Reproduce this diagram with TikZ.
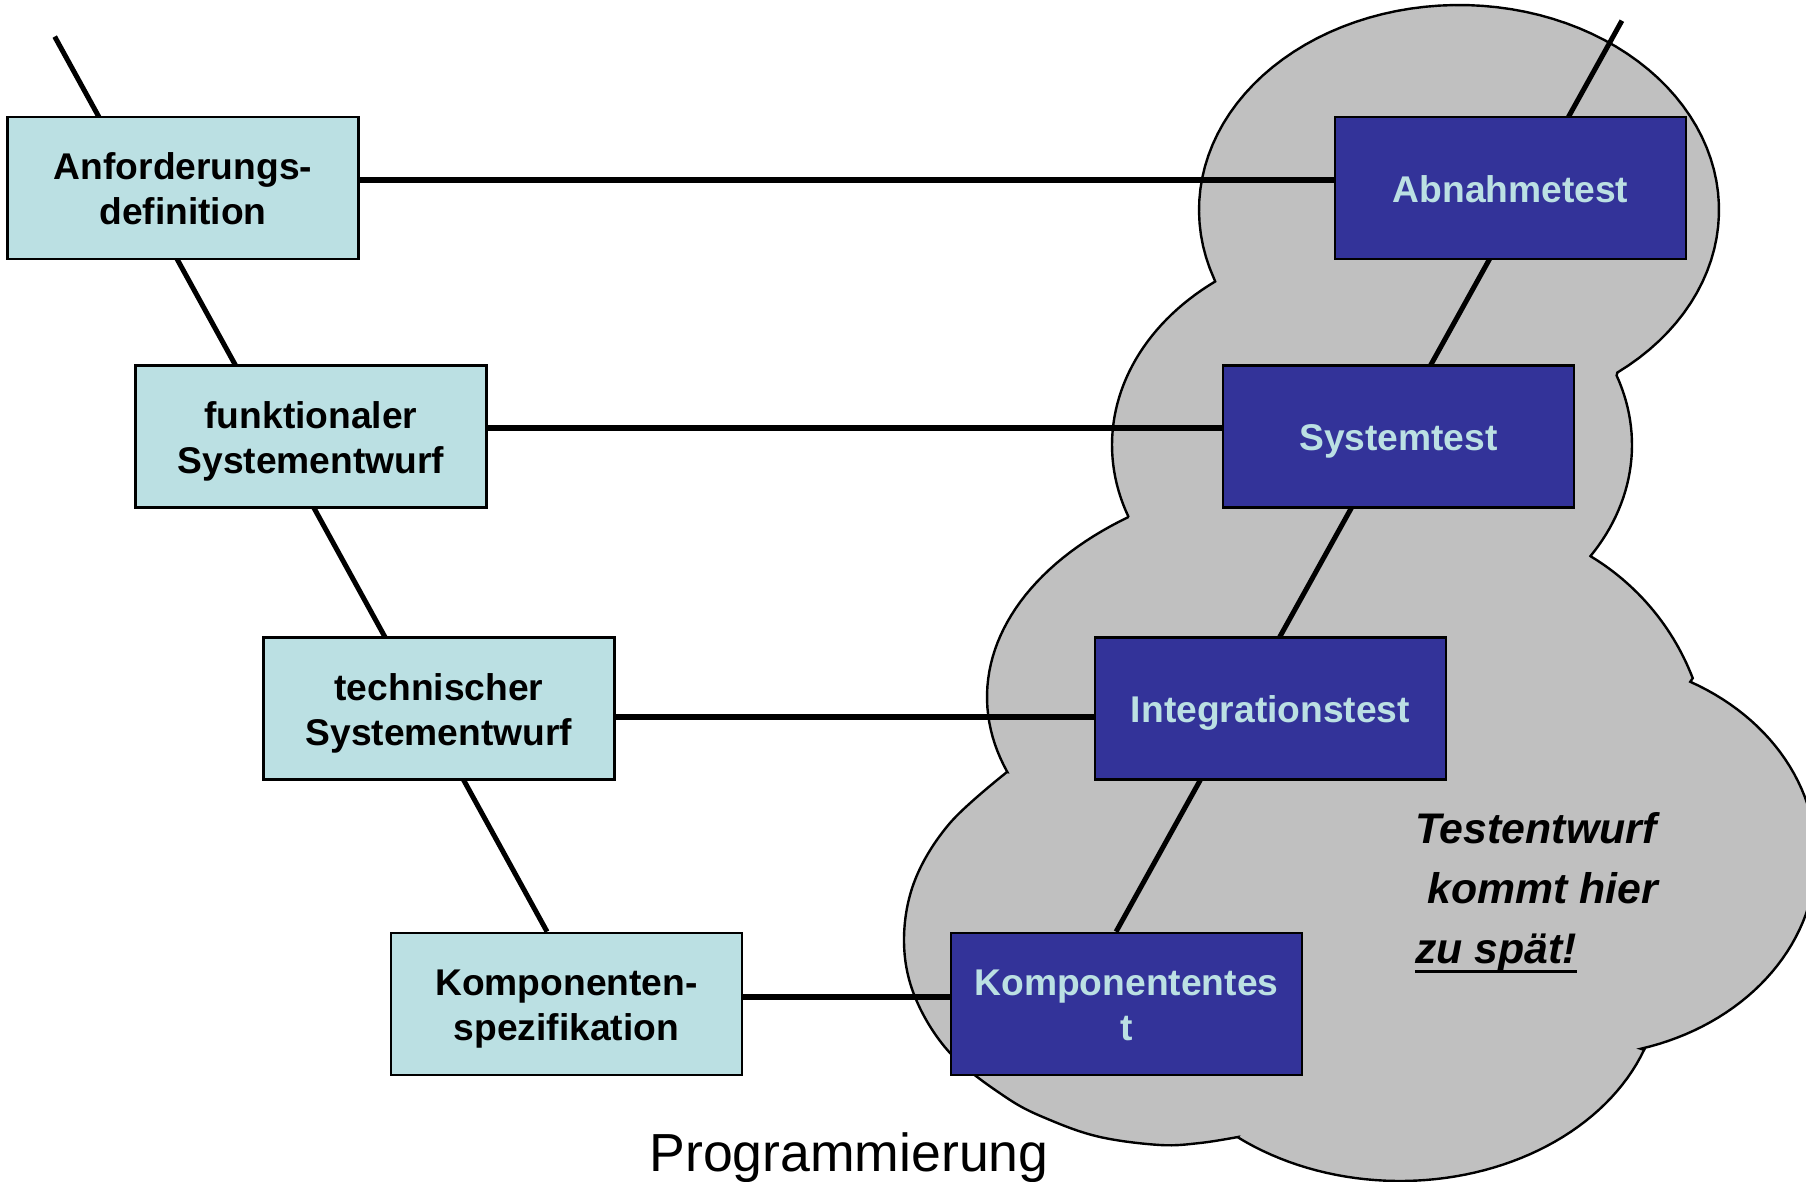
\documentclass[tikz,border=0pt]{standalone}
\usepackage{fontspec}
\setmainfont{Liberation Sans}
\usetikzlibrary{calc}
\definecolor{boxcyan}{HTML}{BBE0E3}
\definecolor{boxblue}{HTML}{333399}
\definecolor{cloudgrey}{HTML}{C0C0C0}
% uniform line height/depth so every box text is centred alike
\newcommand\boxstrut{\rule[-0.22em]{0pt}{1.20em}}
% underline with a heavier rule than \underline gives
\newsavebox\ulsave
\newcommand\thickunderline[1]{\sbox\ulsave{#1}\rlap{\rule[-0.224em]{\wd\ulsave}{0.076em}}\usebox\ulsave}
\pgfdeclarelayer{cloudlayer}
\pgfdeclarelayer{linelayer}
\pgfsetlayers{cloudlayer,linelayer,main}
\begin{document}
\begin{tikzpicture}[x=0.5pt,y=-0.5pt,
  phase/.style={draw=black, line width=1.3pt, minimum width=175.5pt, minimum height=71pt,
    inner sep=0pt, align=center,
    font=\fontsize{18.6pt}{22.5pt}\selectfont\bfseries,
    execute at begin node=\boxstrut, execute at end node=\boxstrut},
  spec/.style={phase, fill=boxcyan, text=black},
  test/.style={phase, fill=boxblue, text=boxcyan},
  level/.style={line width=3pt},
  vline/.style={line width=2.5pt},
  note/.style={anchor=base west, inner sep=0pt, font=\fontsize{21.4pt}{30pt}\selectfont\bfseries\itshape},
]
\useasboundingbox (0,0) rectangle (1806,1182);

% design phases (left) and test phases (right)
\node[spec] (anf)   at (183,188)     {\boxstrut Anforderungs-\\definition};
\node[spec] (fkt)   at (311,436.5)   {\boxstrut funktionaler\\Systementwurf};
\node[spec] (tech)  at (439,708.5)   {\boxstrut technischer\\Systementwurf};
\node[spec] (kspec) at (566.5,1004)  {\boxstrut Komponenten-\\spezifikation};
\node[test] (abn)   at (1510.5,188)  {Abnahmetest};
\node[test] (sys)   at (1398.5,436.5){Systemtest};
\node[test] (int)   at (1270.5,708.5){Integrationstest};
\node[test] (ktest) at (1126.5,1004) {\boxstrut Komponententes\\t};

\coordinate (ltop) at (54.7,36.6);
\coordinate (rtop) at (1621.9,20.7);

% grey cloud behind the test phases
\begin{pgfonlayer}{cloudlayer}
\begin{scope}
\clip (0,0) rectangle (1806,1182);
\filldraw[fill=cloudgrey, draw=black, line width=1.2pt, line join=miter]
  plot[domain=160.3:412.5, samples=80, variable=\t] ({1459+260*cos(\t)},{210+205*sin(\t)})
  -- plot[domain=-19.8:33.1, samples=30, variable=\t] ({1372+260*cos(\t)},{445+205*sin(\t)})
  -- plot[domain=-58.9:-21, samples=30, variable=\t] ({1464+245*cos(\t)},{766+245*sin(\t)})
  -- plot[domain=-61.7:74.5, samples=60, variable=\t] ({1577+239*cos(\t)},{857+199*sin(\t)})
  -- plot[domain=20.1:128.6, samples=50, variable=\t] ({1400+260*cos(\t)},{981+200*sin(\t)})
  -- plot[smooth, tension=0.6] coordinates {(1238,1137) (1200,1143) (1160,1145) (1100,1137)
       (1050,1120) (1007,1098) (950,1053) (915,997) (904,940) (915,880) (950,823) (1007,772)}
  -- plot[domain=160.6:232.8, samples=40, variable=\t] ({1345+358*cos(\t)},{697+226*sin(\t)})
  -- plot[domain=159.4:232.9, samples=40, variable=\t] ({1372+260*cos(\t)},{445+205*sin(\t)})
  -- cycle;
\end{scope}
\end{pgfonlayer}

% connectors
\begin{pgfonlayer}{linelayer}
\draw[vline] (ltop) -- ($(kspec.north west)!0.445!(kspec.north east)$);
\draw[vline] (rtop) -- ($(ktest.north west)!0.4705!(ktest.north east)$);
\draw[level] ([yshift=4pt]anf.east) -- ([yshift=4pt]abn.west);
\draw[level] ([yshift=4pt]fkt.east) -- ([yshift=4pt]sys.west);
\draw[level] ([yshift=-4pt]tech.east) -- ([yshift=-4pt]int.west);
\draw[level] ([yshift=3.7pt]kspec.east) -- ([yshift=3.7pt]ktest.west);
\end{pgfonlayer}

% remark inside the cloud
\node[note] (late1) at (1415,843.3) {Testentwurf};
\node[note] (late2) at (1415,903.3) {\ kommt hier};
\node[note] (late3) at (1415,963.3) {\thickunderline{zu spät!}};

% coding phase at the bottom
\node[anchor=base west, inner sep=0pt, font=\fontsize{26.8pt}{30pt}\selectfont] (prog) at (649,1171) {Programmierung};
\end{tikzpicture}
\end{document}
